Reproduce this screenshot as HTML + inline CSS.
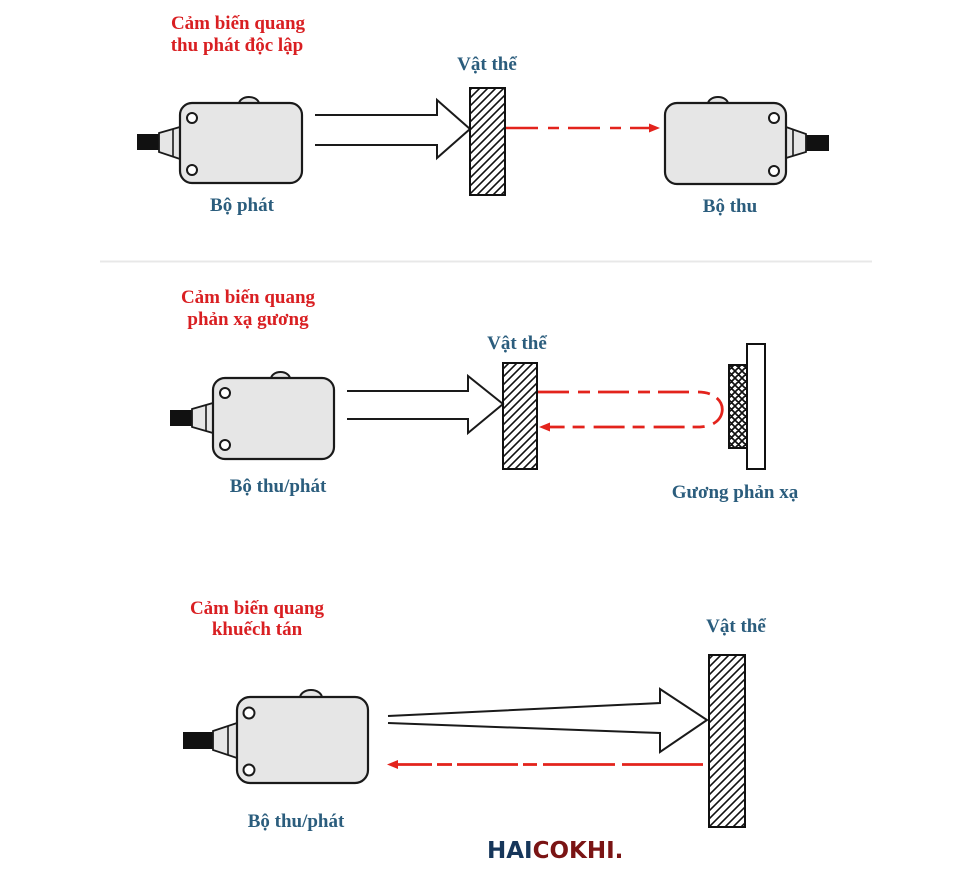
<!DOCTYPE html>
<html><head><meta charset="utf-8"><style>
html,body{margin:0;padding:0;background:#fff;}
svg{display:block;}
.t{font-family:"Liberation Serif","Noto Serif CJK SC",serif;font-weight:bold;font-size:19px;text-anchor:middle;}
.r{fill:#d91f22;}
.b{fill:#2b5d7d;}
</style></head><body>
<svg width="969" height="887" viewBox="0 0 969 887" xmlns="http://www.w3.org/2000/svg">
<defs>
<pattern id="hatch" patternUnits="userSpaceOnUse" width="8" height="8">
<path d="M-2,2 L2,-2 M0,8 L8,0 M6,10 L10,6" stroke="#111" stroke-width="1.6"/>
</pattern>
<pattern id="cross" patternUnits="userSpaceOnUse" width="7" height="7">
<rect width="7" height="7" fill="#fff"/>
<path d="M0,0 L7,7 M7,0 L0,7 M-1,6 L1,8 M6,-1 L8,1 M-1,1 L1,-1 M6,8 L8,6" stroke="#111" stroke-width="1.7"/>
</pattern>
</defs>
<rect width="969" height="887" fill="#fff"/>
<line x1="100" y1="261.5" x2="872" y2="261.5" stroke="#e8e8e8" stroke-width="2"/>

<!-- ===== Section 1 ===== -->
<text class="t r" x="238" y="29">Cảm biến quang</text>
<text class="t r" x="237" y="51">thu phát độc lập</text>

<!-- emitter -->
<rect x="137" y="134" width="22" height="16" fill="#111"/>
<polygon points="159,133 180,127 180,159 159,152" fill="#e6e6e6" stroke="#1a1a1a" stroke-width="1.8"/>
<line x1="173" y1="129" x2="173" y2="157" stroke="#1a1a1a" stroke-width="1.6"/>
<path d="M239,104 A10,7 0 0 1 259,104 Z" fill="#e6e6e6" stroke="#1a1a1a" stroke-width="2"/>
<rect x="180" y="103" width="122" height="80" rx="12" fill="#e6e6e6" stroke="#1a1a1a" stroke-width="2.2"/>
<circle cx="192" cy="118" r="5" fill="#fff" stroke="#1a1a1a" stroke-width="2"/>
<circle cx="192" cy="170" r="5" fill="#fff" stroke="#1a1a1a" stroke-width="2"/>
<text class="t b" x="242" y="211">Bộ phát</text>

<!-- arrow 1 -->
<polyline points="315,115 437,115 437,100 470,129 437,158 437,145 315,145" fill="none" stroke="#1a1a1a" stroke-width="2"/>

<!-- object 1 -->
<rect x="470" y="88" width="35" height="107" fill="url(#hatch)" stroke="#111" stroke-width="2"/>
<text class="t b" x="487" y="70">Vật thể</text>

<!-- red dash line 1 -->
<line x1="506" y1="128" x2="650" y2="128" stroke="#e3231c" stroke-width="2.6" stroke-dasharray="32 10 11 9"/>
<polygon points="660,128 649,123.5 649,132.5" fill="#e3231c"/>

<!-- receiver -->
<rect x="806" y="135" width="23" height="16" fill="#111"/>
<polygon points="786,127 806,134 806,152 786,158" fill="#e6e6e6" stroke="#1a1a1a" stroke-width="1.8"/>
<line x1="793" y1="129" x2="793" y2="156" stroke="#1a1a1a" stroke-width="1.6"/>
<path d="M708,104 A10,7 0 0 1 728,104 Z" fill="#e6e6e6" stroke="#1a1a1a" stroke-width="2"/>
<rect x="665" y="103" width="121" height="81" rx="12" fill="#e6e6e6" stroke="#1a1a1a" stroke-width="2.2"/>
<circle cx="774" cy="118" r="5" fill="#fff" stroke="#1a1a1a" stroke-width="2"/>
<circle cx="774" cy="171" r="5" fill="#fff" stroke="#1a1a1a" stroke-width="2"/>
<text class="t b" x="730" y="212">Bộ thu</text>

<!-- ===== Section 2 ===== -->
<text class="t r" x="248" y="303">Cảm biến quang</text>
<text class="t r" x="248" y="325">phản xạ gương</text>

<rect x="170" y="410" width="22" height="16" fill="#111"/>
<polygon points="192,409 213,403 213,433 192,427" fill="#e6e6e6" stroke="#1a1a1a" stroke-width="1.8"/>
<line x1="206" y1="405" x2="206" y2="431" stroke="#1a1a1a" stroke-width="1.6"/>
<path d="M271,379 A9.5,7 0 0 1 290,379 Z" fill="#e6e6e6" stroke="#1a1a1a" stroke-width="2"/>
<rect x="213" y="378" width="121" height="81" rx="12" fill="#e6e6e6" stroke="#1a1a1a" stroke-width="2.2"/>
<circle cx="225" cy="393" r="5" fill="#fff" stroke="#1a1a1a" stroke-width="2"/>
<circle cx="225" cy="445" r="5" fill="#fff" stroke="#1a1a1a" stroke-width="2"/>
<text class="t b" x="278" y="492">Bộ thu/phát</text>

<polyline points="347,391 468,391 468,376 503,404 468,433 468,419 347,419" fill="none" stroke="#1a1a1a" stroke-width="2"/>

<rect x="503" y="363" width="34" height="106" fill="url(#hatch)" stroke="#111" stroke-width="2"/>
<text class="t b" x="517" y="349">Vật thể</text>

<!-- reflector -->
<rect x="747" y="344" width="18" height="125" fill="#fff" stroke="#111" stroke-width="2"/>
<rect x="729" y="365" width="18" height="83" fill="url(#cross)" stroke="#111" stroke-width="2"/>
<text class="t b" x="735" y="498">Gương phản xạ</text>

<!-- red loop -->
<path d="M538,392 H698 C730,392 730,426 700,427 H549" fill="none" stroke="#e3231c" stroke-width="2.8" stroke-dasharray="31 9 12 8"/>
<polygon points="539,427 550,422.5 550,431.5" fill="#e3231c"/>

<!-- ===== Section 3 ===== -->
<text class="t r" x="257" y="614">Cảm biến quang</text>
<text class="t r" x="257" y="635">khuếch tán</text>

<rect x="183" y="732" width="30" height="17" fill="#111"/>
<polygon points="213,731 237,723 237,758 213,750" fill="#e6e6e6" stroke="#1a1a1a" stroke-width="1.8"/>
<line x1="228" y1="726" x2="228" y2="755" stroke="#1a1a1a" stroke-width="1.6"/>
<path d="M300,698 A11,8 0 0 1 322,698 Z" fill="#e6e6e6" stroke="#1a1a1a" stroke-width="2"/>
<rect x="237" y="697" width="131" height="86" rx="13" fill="#e6e6e6" stroke="#1a1a1a" stroke-width="2.2"/>
<circle cx="249" cy="713" r="5.5" fill="#fff" stroke="#1a1a1a" stroke-width="2"/>
<circle cx="249" cy="770" r="5.5" fill="#fff" stroke="#1a1a1a" stroke-width="2"/>
<text class="t b" x="296" y="827">Bộ thu/phát</text>

<polyline points="388,716 660,703 660,689 707,720 660,752 660,733 388,723" fill="none" stroke="#1a1a1a" stroke-width="2"/>

<rect x="709" y="655" width="36" height="172" fill="url(#hatch)" stroke="#111" stroke-width="2"/>
<text class="t b" x="736" y="632">Vật thể</text>

<!-- red dashed return -->
<g stroke="#e3231c" stroke-width="2.8">
<line x1="703" y1="764.5" x2="622" y2="764.5"/>
<line x1="615" y1="764.5" x2="543" y2="764.5"/>
<line x1="537" y1="764.5" x2="523" y2="764.5"/>
<line x1="518" y1="764.5" x2="457" y2="764.5"/>
<line x1="452" y1="764.5" x2="437" y2="764.5"/>
<line x1="432" y1="764.5" x2="396" y2="764.5"/>
</g>
<polygon points="387,764.5 398,760 398,769" fill="#e3231c"/>

<text x="487" y="858" style="font-family:'DejaVu Sans','Liberation Sans',sans-serif;font-weight:bold;font-size:23px;"><tspan fill="#16365a">HAI</tspan><tspan fill="#7a1414">COKHI.</tspan></text>
</svg>
</body></html>
